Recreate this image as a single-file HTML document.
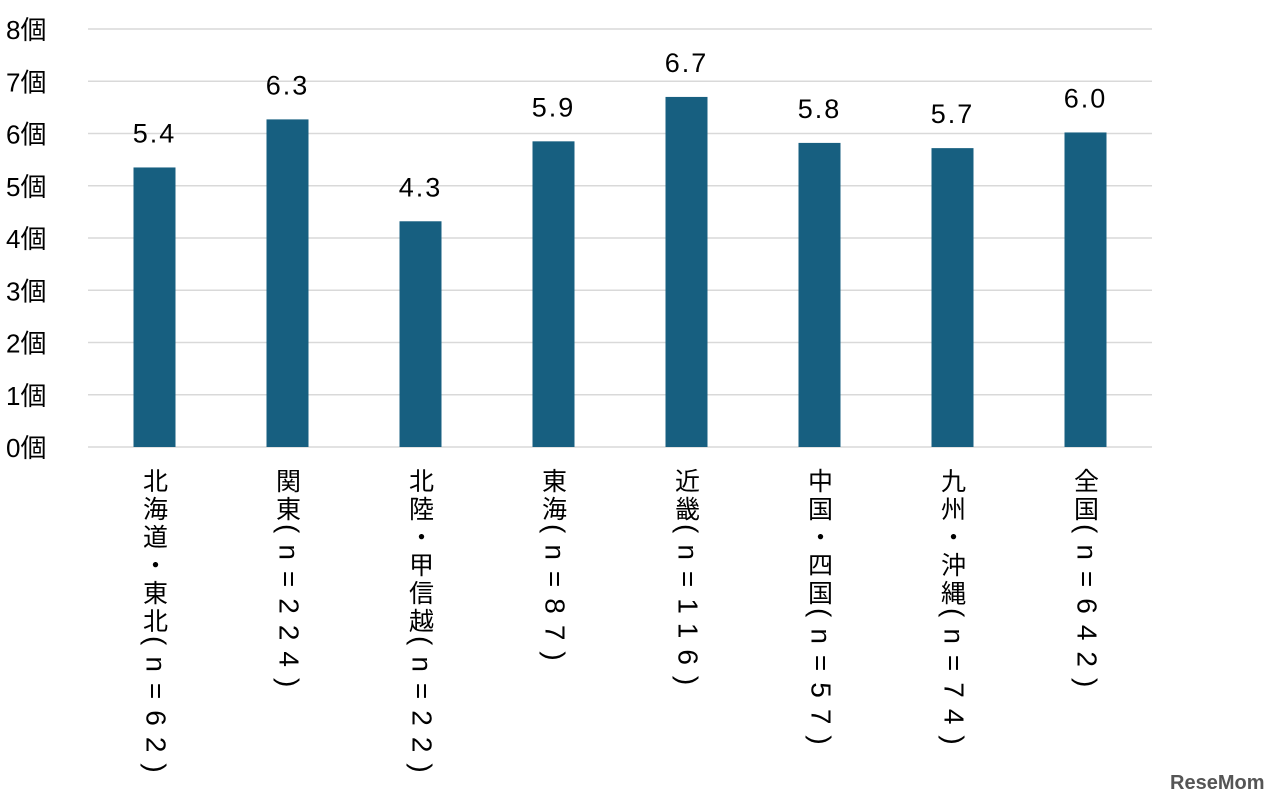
<!DOCTYPE html>
<html><head><meta charset="utf-8"><style>
body{margin:0;background:#fff;width:1280px;height:810px;overflow:hidden;font-family:"Liberation Sans","Noto Sans CJK JP",sans-serif}
svg text{font-family:"Liberation Sans","Noto Sans CJK JP",sans-serif}
.xl{position:absolute;top:468px;writing-mode:vertical-rl;text-orientation:mixed;font-size:25px;letter-spacing:3px;color:#000;font-family:"Noto Sans CJK JP",sans-serif;line-height:1}
.xl span{text-orientation:sideways;letter-spacing:11px;font-size:28px;font-family:"Liberation Sans",sans-serif}
</style></head><body>
<svg id="chart" width="1280" height="810" style="position:absolute;left:0;top:0"></svg>
<div id="xlabels"></div>
<div style="position:absolute;left:1170px;top:772px;font:bold 20px 'Liberation Sans',sans-serif;color:#555">ReseMom</div>
<script>
const categories=["北海道・東北","関東","北陸・甲信越","東海","近畿","中国・四国","九州・沖縄","全国"];
const counts=["62","224","22","87","116","57","74","642"];
const values=[5.35,6.27,4.32,5.85,6.7,5.82,5.72,6.02];
const valueLabels=["5.4","6.3","4.3","5.9","6.7","5.8","5.7","6.0"];
const yTicks=[0,1,2,3,4,5,6,7,8];
const NS="http://www.w3.org/2000/svg";
const svg=document.getElementById('chart');
const x0=88,x1=1152,yTop=29,yBot=447,yMax=8;
const y=v=>yBot-(v/yMax)*(yBot-yTop);
const band=(x1-x0)/categories.length;
const xc=i=>x0+band*(i+0.5);
function mk(t,a){const e=document.createElementNS(NS,t);for(const k in a)e.setAttribute(k,a[k]);svg.appendChild(e);return e;}
yTicks.forEach(t=>{
  const l=mk('line',{x1:x0,x2:x1,y1:y(t),y2:y(t),stroke:'#d9d9d9','stroke-width':1.5});
  
  
  const tx=mk('text',{x:6,y:y(t)+10,'font-size':26,fill:'#000'});
  tx.textContent=t+'個';
  
  
});
values.forEach((v,i)=>{
  const r=mk('rect',{x:xc(i)-21,y:y(v),width:42,height:yBot-y(v),fill:'#175f80'});
  
  
  const t=mk('text',{x:xc(i),y:y(v)-25,'font-size':27,'text-anchor':'middle',fill:'#000','letter-spacing':2});
  t.textContent=valueLabels[i];
  
  
});
const xl=document.getElementById('xlabels');
categories.forEach((c,i)=>{
  const d=document.createElement('div');
  d.className='xl';
  d.style.left=(xc(i)-13)+'px';
  d.innerHTML=c+'<span>(n='+counts[i]+')</span>';
  
  
  xl.appendChild(d);
});
</script>
</body></html>
